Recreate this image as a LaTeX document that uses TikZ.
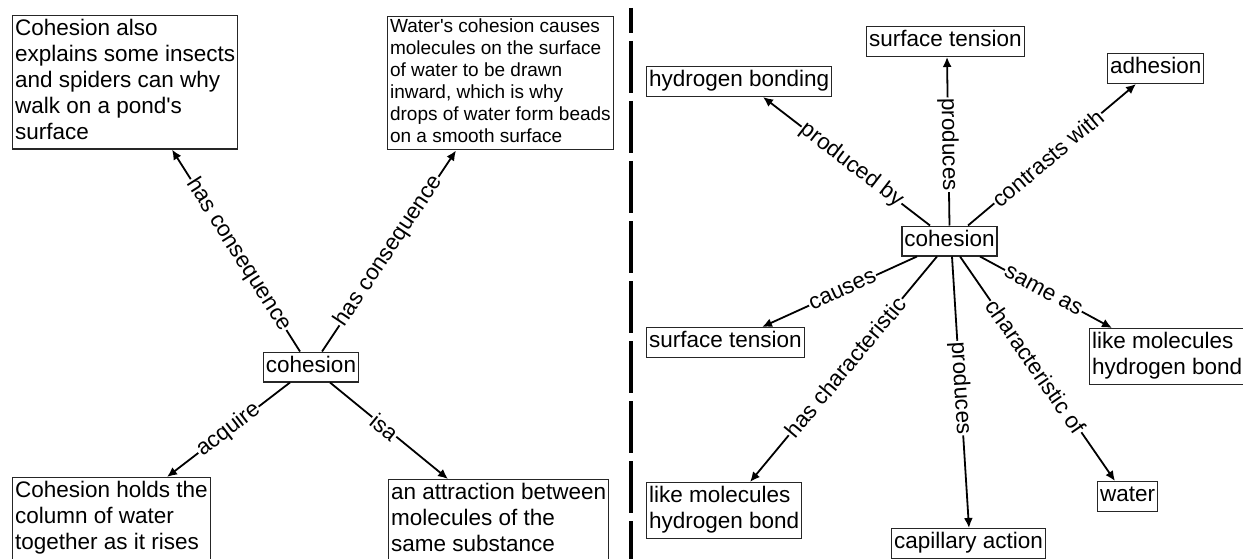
\documentclass[tikz,border=0pt]{standalone}
\usepackage{fontspec}
\setmainfont{Liberation Sans}
\usetikzlibrary{arrows.meta,calc}
\newcommand{\bigf}{\fontsize{22.5}{25.9}\selectfont}
\newcommand{\smallf}{\fontsize{19}{21.9}\selectfont}
\tikzset{
  box/.style={draw=black!85, line width=1.1pt, inner xsep=2.5pt, inner ysep=2pt, align=left, font=\bigf, anchor=north west},
  sbox/.style={box, font=\smallf, inner ysep=1pt},
  link/.style={line width=1.8pt, -{Latex[length=10pt,width=9pt]}},
  lbl/.style={font=\bigf, fill=white, inner sep=1pt, sloped},
  divider/.style={line width=4pt, dash pattern=on 52pt off 8pt, dash phase=27pt}
}
\begin{document}
\begin{tikzpicture}[x=1pt,y=-1pt]
\useasboundingbox (0,0) rectangle (1243,559);
\fill[white] (0,0) rectangle (1243,559);

% ---------- left map ----------
\node[box] (A) at (12,15) {\strut Cohesion also\\\strut explains some insects\\\strut and spiders can why\\\strut walk on a pond\textquotesingle s\\\strut surface};
\node[sbox] (B) at (387,16) {\strut Water\textquotesingle s cohesion causes\\\strut molecules on the surface\\\strut of water to be drawn\\\strut inward, which is why\\\strut drops of water form beads\\\strut on a smooth surface};
\node[box] (C) at (12,477) {\strut Cohesion holds the\\\strut column of water\\\strut together as it rises};
\node[box] (D) at (388,479) {\strut an attraction between\\\strut molecules of the\\\strut same substance};
\node[box, anchor=center] (c1) at (311,367) {\strut cohesion};

\draw[link] ($(c1.north)+(-11,0)$) -- node[lbl,pos=.48]{has consequence} ($(A.south west)+(160,0)$);
\draw[link] ($(c1.north)+(11,0)$) -- node[lbl,pos=.5]{has consequence} ($(B.south west)+(69,0)$);
\draw[link] ($(c1.south)+(-21,0)$) -- node[lbl,pos=.5]{acquire} ($(C.north west)+(155,0)$);
\draw[link] ($(c1.south)+(19,0)$) -- node[lbl,pos=.46]{isa} ($(D.north west)+(60,0)$);

% ---------- divider ----------
\draw[divider] (631,8) -- (631,575);

% ---------- right map ----------
\node[box] (hb) at (646,66) {\strut hydrogen bonding};
\node[box] (st1) at (866,26) {\strut surface tension};
\node[box] (ad) at (1107,53) {\strut adhesion};
\node[box, anchor=center] (c2) at (949.5,241) {\strut cohesion};
\node[box] (st2) at (646,327) {\strut surface tension};
\node[box] (lm1) at (646,482) {\strut like molecules\\\strut hydrogen bond};
\node[box] (ca) at (891,528) {\strut capillary action};
\node[box] (wa) at (1097,481) {\strut water};
\node[box] (lm2) at (1089,328) {\strut like molecules\\\strut hydrogen bond};

\draw[link] ($(c2.north)+(-19.5,0)$) -- node[lbl,pos=.47]{produced by} ($(hb.south west)+(117,0)$);
\draw[link] (c2.north) -- node[lbl,pos=.48]{produces} ($(st1.south west)+(81,0)$);
\draw[link] ($(c2.north)+(18.5,0)$) -- node[lbl,pos=.475]{contrasts with} ($(ad.south west)+(29,0)$);
\draw[link] ($(c2.south)+(-32.5,0)$) -- node[lbl,pos=.48]{causes} ($(st2.north west)+(116,0)$);
\draw[link] ($(c2.south)+(-12.5,0)$) -- node[lbl,pos=.49]{has characteristic} ($(lm1.north west)+(104,0)$);
\draw[link] ($(c2.south)+(2.5,0)$) -- node[lbl,pos=.485]{produces} ($(ca.north west)+(78,0)$);
\draw[link] ($(c2.south)+(10.5,0)$) -- node[lbl,pos=.49]{characteristic of} ($(wa.north west)+(18,0)$);
\draw[link] ($(c2.south)+(30.5,0)$) -- node[lbl,pos=.48]{same as} ($(lm2.north west)+(23,0)$);
\end{tikzpicture}
\end{document}
